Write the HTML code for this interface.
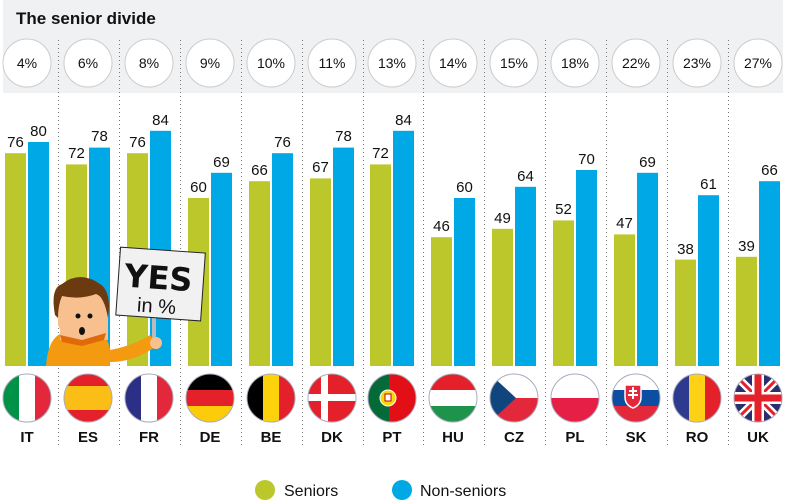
<!DOCTYPE html>
<html><head><meta charset="utf-8"><style>
html,body{margin:0;padding:0;background:#fff;}
svg{display:block;font-family:"Liberation Sans",sans-serif;}
.v{font-size:15px;fill:#111;text-anchor:middle;}
.p{font-size:14px;fill:#111;text-anchor:middle;}
.c{font-size:15px;font-weight:bold;fill:#111;text-anchor:middle;}
.g{fill:#bcc72b}.b{fill:#00a8e5}
</style></head><body>
<svg width="793" height="501" viewBox="0 0 793 501" xmlns="http://www.w3.org/2000/svg">
<defs><clipPath id="fc"><circle cx="27" cy="398" r="24"/></clipPath></defs>
<rect x="3" y="0" width="780" height="93" fill="#f0f1f3"/>
<text x="16" y="24" font-size="17" font-weight="bold" fill="#111">The senior divide</text>
<g stroke="#777" stroke-width="1" stroke-dasharray="1,3">
<line x1="58.5" y1="40" x2="58.5" y2="445"/><line x1="119.5" y1="40" x2="119.5" y2="445"/><line x1="180.5" y1="40" x2="180.5" y2="445"/><line x1="241.5" y1="40" x2="241.5" y2="445"/><line x1="302.5" y1="40" x2="302.5" y2="445"/><line x1="363.5" y1="40" x2="363.5" y2="445"/><line x1="423.5" y1="40" x2="423.5" y2="445"/><line x1="484.5" y1="40" x2="484.5" y2="445"/><line x1="545.5" y1="40" x2="545.5" y2="445"/><line x1="606.5" y1="40" x2="606.5" y2="445"/><line x1="667.5" y1="40" x2="667.5" y2="445"/><line x1="728.5" y1="40" x2="728.5" y2="445"/>
</g>

<!-- IT -->
<g transform="translate(0,0)">
<circle cx="27" cy="63" r="24" fill="#fff" stroke="#ccc"/><text class="p" x="27" y="68">4%</text>
<rect class="g" x="5" y="153.2" width="21" height="212.8"/><rect class="b" x="28" y="142" width="21" height="224"/>
<text class="v" x="15.5" y="147">76</text><text class="v" x="38.5" y="136">80</text>
<g clip-path="url(#fc)"><rect x="3" y="374" width="16" height="48" fill="#009246"/><rect x="19" y="374" width="16" height="48" fill="#fff"/><rect x="35" y="374" width="16" height="48" fill="#e4283c"/></g>
<circle cx="27" cy="398" r="24" fill="none" stroke="#aab" stroke-width="1"/>
<text class="c" x="27" y="442">IT</text></g>
<!-- ES -->
<g transform="translate(61,0)">
<circle cx="27" cy="63" r="24" fill="#fff" stroke="#ccc"/><text class="p" x="27" y="68">6%</text>
<rect class="g" x="5" y="164.4" width="21" height="201.6"/><rect class="b" x="28" y="147.6" width="21" height="218.4"/>
<text class="v" x="15.5" y="158">72</text><text class="v" x="38.5" y="141">78</text>
<g clip-path="url(#fc)"><rect x="3" y="374" width="48" height="48" fill="#e4202a"/><rect x="3" y="386" width="48" height="24" fill="#fbbe16"/></g>
<circle cx="27" cy="398" r="24" fill="none" stroke="#aab"/>
<text class="c" x="27" y="442">ES</text></g>
<!-- FR -->
<g transform="translate(122,0)">
<circle cx="27" cy="63" r="24" fill="#fff" stroke="#ccc"/><text class="p" x="27" y="68">8%</text>
<rect class="g" x="5" y="153.2" width="21" height="212.8"/><rect class="b" x="28" y="130.8" width="21" height="235.2"/>
<text class="v" x="15.5" y="147">76</text><text class="v" x="38.5" y="125">84</text>
<g clip-path="url(#fc)"><rect x="3" y="374" width="16" height="48" fill="#2b2f86"/><rect x="19" y="374" width="16" height="48" fill="#fff"/><rect x="35" y="374" width="16" height="48" fill="#e4283c"/></g>
<circle cx="27" cy="398" r="24" fill="none" stroke="#aab"/>
<text class="c" x="27" y="442">FR</text></g>
<!-- DE -->
<g transform="translate(183,0)">
<circle cx="27" cy="63" r="24" fill="#fff" stroke="#ccc"/><text class="p" x="27" y="68">9%</text>
<rect class="g" x="5" y="198" width="21" height="168"/><rect class="b" x="28" y="172.8" width="21" height="193.2"/>
<text class="v" x="15.5" y="192">60</text><text class="v" x="38.5" y="167">69</text>
<g clip-path="url(#fc)"><rect x="3" y="374" width="48" height="16" fill="#000"/><rect x="3" y="390" width="48" height="16" fill="#e4202a"/><rect x="3" y="406" width="48" height="16" fill="#fccc0a"/></g>
<circle cx="27" cy="398" r="24" fill="none" stroke="#aab"/>
<text class="c" x="27" y="442">DE</text></g>
<!-- BE -->
<g transform="translate(244,0)">
<circle cx="27" cy="63" r="24" fill="#fff" stroke="#ccc"/><text class="p" x="27" y="68">10%</text>
<rect class="g" x="5" y="181.2" width="21" height="184.8"/><rect class="b" x="28" y="153.2" width="21" height="212.8"/>
<text class="v" x="15.5" y="175">66</text><text class="v" x="38.5" y="147">76</text>
<g clip-path="url(#fc)"><rect x="3" y="374" width="16" height="48" fill="#000"/><rect x="19" y="374" width="16" height="48" fill="#fdd20a"/><rect x="35" y="374" width="16" height="48" fill="#e4202a"/></g>
<circle cx="27" cy="398" r="24" fill="none" stroke="#aab"/>
<text class="c" x="27" y="442">BE</text></g>
<!-- DK -->
<g transform="translate(305,0)">
<circle cx="27" cy="63" r="24" fill="#fff" stroke="#ccc"/><text class="p" x="27" y="68">11%</text>
<rect class="g" x="5" y="178.4" width="21" height="187.6"/><rect class="b" x="28" y="147.6" width="21" height="218.4"/>
<text class="v" x="15.5" y="172">67</text><text class="v" x="38.5" y="141">78</text>
<g clip-path="url(#fc)"><rect x="3" y="374" width="48" height="48" fill="#e4202a"/><rect x="16" y="374" width="7" height="48" fill="#fff"/><rect x="3" y="394" width="48" height="7" fill="#fff"/></g>
<circle cx="27" cy="398" r="24" fill="none" stroke="#aab"/>
<text class="c" x="27" y="442">DK</text></g>
<!-- PT -->
<g transform="translate(365,0)">
<circle cx="27" cy="63" r="24" fill="#fff" stroke="#ccc"/><text class="p" x="27" y="68">13%</text>
<rect class="g" x="5" y="164.4" width="21" height="201.6"/><rect class="b" x="28" y="130.8" width="21" height="235.2"/>
<text class="v" x="15.5" y="158">72</text><text class="v" x="38.5" y="125">84</text>
<g clip-path="url(#fc)"><rect x="3" y="374" width="48" height="48" fill="#e30f17"/><rect x="3" y="374" width="21" height="48" fill="#046a38"/><circle cx="23" cy="398" r="8" fill="#f6d90a" stroke="#fff"/><rect x="20" y="394" width="6" height="7" fill="#fff" stroke="#c00" stroke-width="1"/></g>
<circle cx="27" cy="398" r="24" fill="none" stroke="#aab"/>
<text class="c" x="27" y="442">PT</text></g>
<!-- HU -->
<g transform="translate(426,0)">
<circle cx="27" cy="63" r="24" fill="#fff" stroke="#ccc"/><text class="p" x="27" y="68">14%</text>
<rect class="g" x="5" y="237.2" width="21" height="128.8"/><rect class="b" x="28" y="198" width="21" height="168"/>
<text class="v" x="15.5" y="231">46</text><text class="v" x="38.5" y="192">60</text>
<g clip-path="url(#fc)"><rect x="3" y="374" width="48" height="16" fill="#e4202a"/><rect x="3" y="390" width="48" height="16" fill="#fff"/><rect x="3" y="406" width="48" height="16" fill="#1d934b"/></g>
<circle cx="27" cy="398" r="24" fill="none" stroke="#aab"/>
<text class="c" x="27" y="442">HU</text></g>
<!-- CZ -->
<g transform="translate(487,0)">
<circle cx="27" cy="63" r="24" fill="#fff" stroke="#ccc"/><text class="p" x="27" y="68">15%</text>
<rect class="g" x="5" y="228.8" width="21" height="137.2"/><rect class="b" x="28" y="186.8" width="21" height="179.2"/>
<text class="v" x="15.5" y="223">49</text><text class="v" x="38.5" y="181">64</text>
<g clip-path="url(#fc)"><rect x="3" y="374" width="48" height="24" fill="#fff"/><rect x="3" y="398" width="48" height="24" fill="#e4283c"/><polygon points="3,374 29,398 3,422" fill="#11457e"/></g>
<circle cx="27" cy="398" r="24" fill="none" stroke="#aab"/>
<text class="c" x="27" y="442">CZ</text></g>
<!-- PL -->
<g transform="translate(548,0)">
<circle cx="27" cy="63" r="24" fill="#fff" stroke="#ccc"/><text class="p" x="27" y="68">18%</text>
<rect class="g" x="5" y="220.4" width="21" height="145.6"/><rect class="b" x="28" y="170" width="21" height="196"/>
<text class="v" x="15.5" y="214">52</text><text class="v" x="38.5" y="164">70</text>
<g clip-path="url(#fc)"><rect x="3" y="374" width="48" height="24" fill="#fff"/><rect x="3" y="398" width="48" height="24" fill="#e51f45"/></g>
<circle cx="27" cy="398" r="24" fill="none" stroke="#aab"/>
<text class="c" x="27" y="442">PL</text></g>
<!-- SK -->
<g transform="translate(609,0)">
<circle cx="27" cy="63" r="24" fill="#fff" stroke="#ccc"/><text class="p" x="27" y="68">22%</text>
<rect class="g" x="5" y="234.4" width="21" height="131.6"/><rect class="b" x="28" y="172.8" width="21" height="193.2"/>
<text class="v" x="15.5" y="228">47</text><text class="v" x="38.5" y="167">69</text>
<g clip-path="url(#fc)"><rect x="3" y="374" width="48" height="16" fill="#fff"/><rect x="3" y="390" width="48" height="16" fill="#0b4ea2"/><rect x="3" y="406" width="48" height="16" fill="#e4283c"/><path d="M16,385 h16 v12 q0,8 -8,11 q-8,-3 -8,-11z" fill="#e4283c" stroke="#fff" stroke-width="1.5"/><rect x="23" y="387" width="2" height="12" fill="#fff"/><rect x="20" y="390" width="8" height="2" fill="#fff"/><rect x="19" y="394" width="10" height="2" fill="#fff"/></g>
<circle cx="27" cy="398" r="24" fill="none" stroke="#aab"/>
<text class="c" x="27" y="442">SK</text></g>
<!-- RO -->
<g transform="translate(670,0)">
<circle cx="27" cy="63" r="24" fill="#fff" stroke="#ccc"/><text class="p" x="27" y="68">23%</text>
<rect class="g" x="5" y="259.6" width="21" height="106.4"/><rect class="b" x="28" y="195.2" width="21" height="170.8"/>
<text class="v" x="15.5" y="254">38</text><text class="v" x="38.5" y="189">61</text>
<g clip-path="url(#fc)"><rect x="3" y="374" width="16" height="48" fill="#2e3a8f"/><rect x="19" y="374" width="16" height="48" fill="#fcd116"/><rect x="35" y="374" width="16" height="48" fill="#e4202a"/></g>
<circle cx="27" cy="398" r="24" fill="none" stroke="#aab"/>
<text class="c" x="27" y="442">RO</text></g>
<!-- UK -->
<g transform="translate(731,0)">
<circle cx="27" cy="63" r="24" fill="#fff" stroke="#ccc"/><text class="p" x="27" y="68">27%</text>
<rect class="g" x="5" y="256.8" width="21" height="109.2"/><rect class="b" x="28" y="181.2" width="21" height="184.8"/>
<text class="v" x="15.5" y="251">39</text><text class="v" x="38.5" y="175">66</text>
<g clip-path="url(#fc)"><rect x="3" y="374" width="48" height="48" fill="#2a2f6e"/><path d="M3,374 L51,422 M51,374 L3,422" stroke="#fff" stroke-width="8"/><path d="M3,374 L51,422 M51,374 L3,422" stroke="#e4202a" stroke-width="3"/><rect x="3" y="392" width="48" height="12" fill="#fff"/><rect x="21" y="374" width="12" height="48" fill="#fff"/><rect x="3" y="394.5" width="48" height="7" fill="#e4202a"/><rect x="23.5" y="374" width="7" height="48" fill="#e4202a"/></g>
<circle cx="27" cy="398" r="24" fill="none" stroke="#aab"/>
<text class="c" x="27" y="442">UK</text></g>

<!-- cartoon -->
<g>
<rect x="152" y="310" width="4" height="36" fill="#bbb"/>
<g transform="rotate(4 160 285)">
<rect x="118" y="250" width="85" height="68" fill="#f1f1f1" stroke="#222" stroke-width="1"/>
<text x="158" y="289" font-size="32" font-weight="bold" text-anchor="middle" fill="#111" font-family="DejaVu Sans,sans-serif">YES</text>
<text x="158" y="313" font-size="20" text-anchor="middle" fill="#111">in %</text>
</g>
<path d="M46,366 Q48,335 66,332 L95,330 Q108,335 110,350 Q135,345 150,335 L158,345 Q135,362 110,362 L110,366 Z" fill="#f39a10"/>
<path d="M60,320 h48 v20 h-48z" fill="#f7c08e"/>
<circle cx="156" cy="343" r="6" fill="#f7c08e"/>
<rect x="58" y="288" width="50" height="45" rx="10" fill="#f7c08e"/>
<path d="M55,315 Q50,288 62,284 Q80,270 100,284 Q112,292 108,318 Q104,296 96,294 Q80,300 62,296 Q58,305 58,318Z" fill="#6b3a10"/>
<circle cx="78" cy="316" r="2.5" fill="#111"/><circle cx="90" cy="316" r="2.5" fill="#111"/>
<ellipse cx="82" cy="331" rx="3" ry="4" fill="#111"/>
<path d="M60,335 L82,340 L106,333 L104,340 L82,346 L62,342Z" fill="#e06a0a"/>
</g>

<!-- legend -->
<circle cx="265" cy="490" r="10" fill="#bcc72b"/>
<text x="284" y="496" font-size="16" fill="#111">Seniors</text>
<circle cx="402" cy="490" r="10" fill="#00a8e5"/>
<text x="420" y="496" font-size="16" fill="#111">Non-seniors</text>
</svg>
</body></html>
